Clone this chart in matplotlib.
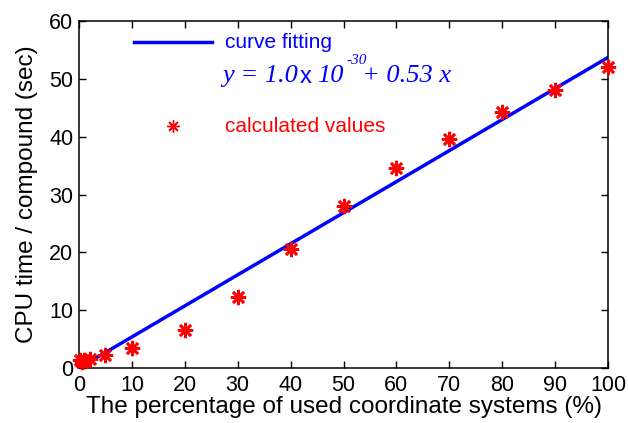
import numpy as np
import matplotlib.pyplot as plt

plt.rcParams['font.family'] = ['Liberation Sans', 'DejaVu Sans']

# calculated values (percentage of used coordinate systems vs CPU time)
pct = [0.1, 0.5, 1, 2, 5, 10, 20, 30, 40, 50, 60, 70, 80, 90, 100]
cpu = [1.3, 1.1, 1.3, 1.6, 2.2, 3.5, 6.6, 12.3, 20.6, 28.0, 34.6, 39.6, 44.2, 48.1, 52.1]

# fitted line end points
fit_x = [0, 100]
fit_y = [0, 53.7]

W, H = 628, 423
fig = plt.figure(figsize=(W / 100, H / 100), dpi=100)
ax = fig.add_axes([79 / W, 1 - 368 / H, 529 / W, 347 / H])

ax.plot(fit_x, fit_y, color='#0000ff', lw=2.5)
ax.plot(pct, cpu, ls='none', marker=(8, 2, 0), ms=11, mew=1.9,
        color='#ff0000', clip_on=False, zorder=3)

ax.set_xlim(0, 100)
ax.set_ylim(0, 60)
ax.set_xticks(range(0, 101, 10))
ax.set_yticks(range(0, 61, 10))
ax.tick_params(direction='in', length=5, width=1, top=True, right=True,
               labelsize=15.5, pad=4)
ax.tick_params(axis='x', pad=5)
for s in ax.spines.values():
    s.set_linewidth(1.1)

ax.set_xlabel('The percentage of used coordinate systems (%)', fontsize=17.5, labelpad=0)
ax.set_ylabel('CPU time / compound (sec)', fontsize=17.5, labelpad=8)


def px(x, y):
    return x / W, 1 - y / H


# legend drawn by hand like the original
fig.add_artist(plt.Line2D([134 / W, 212 / W], [1 - 42 / H] * 2, color='#0000ff', lw=2.5))
fig.text(*px(225, 42), 'curve fitting', color='#0000ff', fontsize=15, va='center')

serif = dict(family='Liberation Serif', style='italic', color='#0000ff')
fig.text(*px(222, 76), 'y = 1.0', fontsize=19, va='center', **serif)
fig.text(*px(300, 77), 'x', fontsize=17, va='center', color='#0000ff')
fig.text(*px(317, 76), '10', fontsize=19, va='center', **serif)
fig.text(*px(346, 61), '-30', fontsize=11, va='center', **serif)
fig.text(*px(362, 76), '+ 0.53 x', fontsize=19, va='center', **serif)

fig.add_artist(plt.Line2D([173 / W], [1 - 126 / H], ls='none', marker=(8, 2, 0),
                          ms=9, mew=1, color='#ff0000'))
fig.text(*px(225, 126), 'calculated values', color='#ff0000', fontsize=15, va='center')

fig.savefig('out.png', dpi=100)
